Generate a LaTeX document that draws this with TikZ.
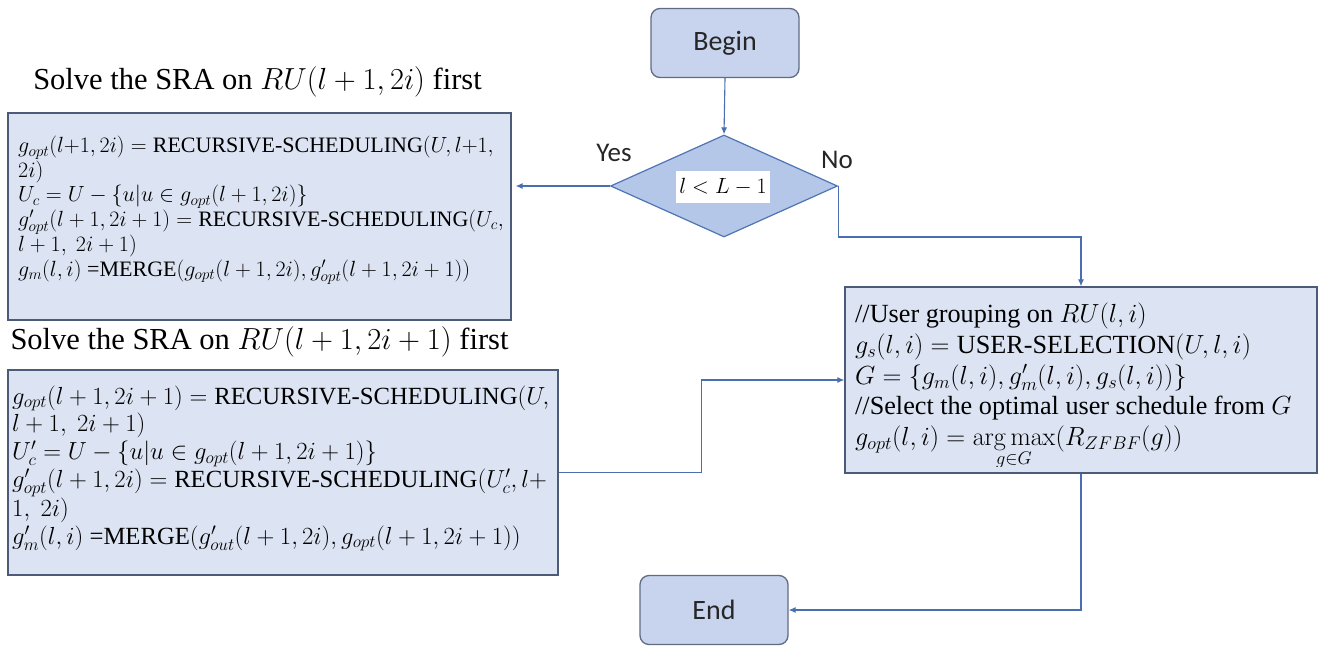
\RequirePackage{fix-cm}
\documentclass[tikz,border=0pt]{standalone}
\usepackage[no-math]{fontspec}
\setmainfont{Liberation Serif}
\newfontfamily\calibri{Carlito}
\usetikzlibrary{shapes.geometric,arrows.meta}

\definecolor{termfill}{RGB}{200,212,238}
\definecolor{termline}{RGB}{96,108,132}
\definecolor{decfill}{RGB}{181,199,232}
\definecolor{decline}{RGB}{79,116,179}
\definecolor{boxfill}{RGB}{220,228,243}
\definecolor{boxline}{RGB}{75,91,120}
\definecolor{flow}{RGB}{74,111,176}

\newcommand{\linesblock}[1]{\begin{tabular}{@{}l@{}}#1\end{tabular}}

\tikzset{
  terminal/.style={draw=termline, fill=termfill, line width=1.3pt, rounded corners=9pt,
    minimum width=148pt, minimum height=69pt, font=\calibri\fontsize{28}{32}\selectfont, text=black!85},
  decision/.style={diamond, draw=decline, fill=decfill, line width=1.2pt,
    minimum width=227pt, minimum height=102pt, inner sep=0pt},
  procbox/.style={draw=boxline, fill=boxfill, line width=1.3pt, inner sep=0pt},
  boxtext/.style={anchor=north west, inner sep=0pt, align=left},
  caption/.style={font=\fontsize{30.5}{34}\selectfont},
  branch/.style={font=\calibri\fontsize{27}{30}\selectfont, text=black!85},
  flowline/.style={draw=flow, line width=1.1pt, -{Latex[length=7pt,width=6pt]}},
}

\begin{document}
\begin{tikzpicture}[x=1pt,y=-1pt]
\useasboundingbox (0,0) rectangle (1324,647);

% start / end terminals
\node[terminal] (begin) at (725,43) {Begin};
\node[terminal] (end) at (714,610) {End};

% level test
\node[decision] (dec) at (724,186) {};
\node[fill=white, inner sep=1pt, minimum width=94pt, minimum height=31pt,
      font=\fontsize{22}{24}\selectfont] (cond) at (723,187) {$l<L-1$};
\node[branch] (yes) at (614,153) {Yes};
\node[branch] (no) at (837,160) {No};

% captions of the two recursive orders
\node[caption] (cap1) at (257.5,82) {Solve the SRA on $RU(l+1,2i)$ first};
\node[caption] (cap2) at (259.5,342) {Solve the SRA on $RU(l+1,2i+1)$ first};

% recursive scheduling, left child first
\node[procbox, minimum width=503pt, minimum height=207pt] (box1) at (259.5,216.5) {};
\node[boxtext] (txt1) at (18,135.5) {\fontsize{22}{24.5}\selectfont\linesblock{%
$g_{opt}(l{+}1,2i) = {}$RECURSIVE-SCHEDULING$(U,l{+}1,$\\
$2i)$\\
$U_c=U-\{u|u\in g_{opt}(l+1,2i)\}$\\
$g'_{opt}(l+1,2i+1) = {}$RECURSIVE-SCHEDULING$(U_c,$\\
$l+1,\ 2i+1)$\\
$g_m(l,i)$ ={}MERGE$(g_{opt}(l+1,2i),g'_{opt}(l+1,2i+1))$}};

% recursive scheduling, right child first
\node[procbox, minimum width=550pt, minimum height=205pt] (box2) at (283,472.5) {};
\node[boxtext] (txt2) at (12,384.5) {\fontsize{24.7}{27.8}\selectfont\linesblock{%
$g_{opt}(l+1,2i+1) = {}$RECURSIVE-SCHEDULING$(U,$\\
$l+1,\ 2i+1)$\\
$U'_c=U-\{u|u\in g_{opt}(l+1,2i+1)\}$\\
$g'_{opt}(l+1,2i) = {}$RECURSIVE-SCHEDULING$(U'_c,l+$\\
$1,\ 2i)$\\
$g'_m(l,i)$ ={}MERGE$(g'_{out}(l+1,2i),g_{opt}(l+1,2i+1))$}};

% grouping and selection on the current RU
\node[procbox, minimum width=472pt, minimum height=186pt] (rbox) at (1081,380) {};
\begin{scope}
  \clip ([yshift=-1pt]rbox.north west) rectangle ([yshift=7pt]rbox.south east);
  \node[boxtext] (txt3) at (855,301) {\fontsize{26.2}{30.7}\selectfont\linesblock{%
  //User grouping on $RU(l,i)$\\
  $g_s(l,i) = {}$USER-SELECTION$(U,l,i)$\\
  $G=\{g_m(l,i),g'_m(l,i),g_s(l,i))\}$\\
  //Select the optimal user schedule from $G$\\
  $g_{opt}(l,i)=\mathop{\arg\max}\limits_{g\in G}(R_{ZFBF}(g))$}};
\end{scope}

% control flow
\coordinate (nobend) at (838,237);
\draw[flowline] (begin.south) -- (dec.north);
\draw[flowline, shorten >=4pt] (dec.west) -- (dec.west -| box1.east);
\draw[flowline] (dec.east) -- (dec.east |- nobend) -| (rbox.north);
\draw[flowline] (box2.east) -- ++(143,0) |- (rbox.west);
\draw[flowline] (rbox.south) |- (end.east);
\end{tikzpicture}
\end{document}
